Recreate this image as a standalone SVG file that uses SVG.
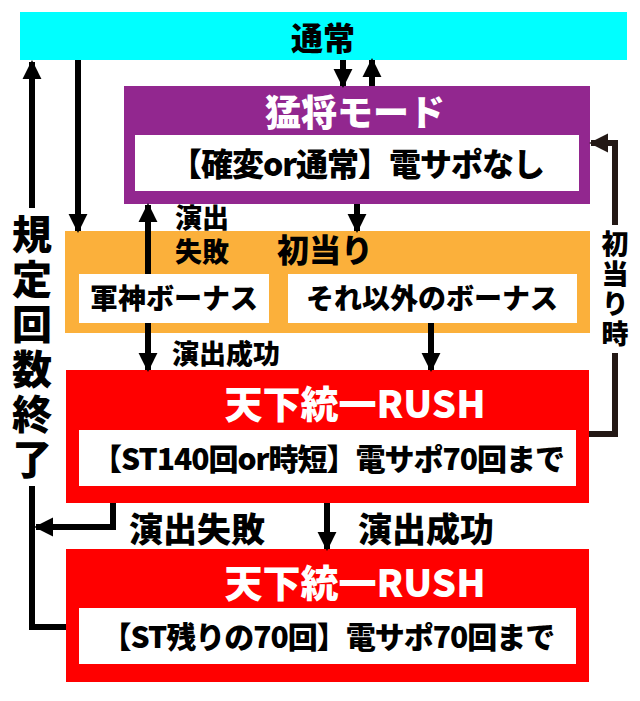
<svg xmlns="http://www.w3.org/2000/svg" width="640" height="701" viewBox="0 0 640 701">
<style>
text{font-family:"Noto Sans CJK JP","Noto Sans",sans-serif;font-weight:900;text-anchor:middle}
.w{fill:#fff}.b{fill:#000}
.v{writing-mode:vertical-rl;text-anchor:start}
.ln{stroke:#000;stroke-width:6;fill:none}
</style>
<defs><marker id="a" viewBox="0 0 10 10" refX="9" refY="5" markerWidth="3.2" markerHeight="3.2" orient="auto" markerUnits="strokeWidth"><path d="M0,0L10,5L0,10z" fill="#000"/></marker>
<marker id="a2" viewBox="0 0 10 10" refX="9" refY="5" markerWidth="3.2" markerHeight="3.2" orient="auto" markerUnits="strokeWidth"><path d="M0,0L10,5L0,10z" fill="#231815"/></marker></defs>
<rect width="640" height="701" fill="#fff"/>
<g id="tsujo"><rect x="20" y="12" width="607" height="48" fill="#00ffff"/><text x="323" y="50" font-size="32" class="b">通常</text></g>
<g id="mosho"><rect x="124" y="86" width="466" height="118" fill="#92278f"/><text x="355" y="126" font-size="36" class="w">猛将モード</text><rect x="135" y="135" width="444" height="56" fill="#fff"/><text x="357" y="176" font-size="32" class="b" letter-spacing="-1">【確変or通常】電サポなし</text></g>
<g id="hatsuatari"><rect x="65" y="231" width="525" height="102" fill="#fbb03b"/><text x="325" y="262" font-size="32" class="b">初当り</text><rect x="79" y="274" width="190" height="49" fill="#fff"/><text x="174" y="309" font-size="28" class="b">軍神ボーナス</text><rect x="288" y="274" width="289" height="49" fill="#fff"/><text x="432" y="309" font-size="28" class="b">それ以外のボーナス</text></g>
<g id="rush1"><rect x="66" y="370" width="523" height="133" fill="#ff0000"/><text x="355" y="418" font-size="38" class="w">天下統一RUSH</text><rect x="79" y="430" width="497" height="56" fill="#fff"/><text x="328" y="470" font-size="30" class="b" letter-spacing="-1">【ST140回or時短】電サポ70回まで</text></g>
<g id="rush2"><rect x="66" y="549" width="523" height="133" fill="#ff0000"/><text x="355" y="597" font-size="38" class="w">天下統一RUSH</text><rect x="79" y="608" width="497" height="56" fill="#fff"/><text x="328" y="648" font-size="30" class="b" letter-spacing="-1">【ST残りの70回】電サポ70回まで</text></g>
<g id="connectors">
<line class="ln" x1="343" y1="60" x2="343" y2="86" marker-end="url(#a)"/>
<line class="ln" x1="372" y1="86" x2="372" y2="60" marker-end="url(#a)"/>
<line class="ln" x1="78" y1="60" x2="78" y2="231" marker-end="url(#a)"/>
<line class="ln" x1="32" y1="208" x2="32" y2="62" marker-end="url(#a)"/>
<polyline class="ln" points="32,485 32,627 66,627"/>
<polyline class="ln" points="113,503 113,527 36,527" marker-end="url(#a)"/>
<line class="ln" x1="357" y1="204" x2="357" y2="231" marker-end="url(#a)"/>
<line class="ln" x1="148" y1="274" x2="148" y2="205" marker-end="url(#a)"/>
<line class="ln" x1="148" y1="323" x2="148" y2="370" marker-end="url(#a)"/>
<line class="ln" x1="431" y1="323" x2="431" y2="370" marker-end="url(#a)"/>
<line class="ln" x1="327" y1="503" x2="327" y2="549" marker-end="url(#a)"/>
<polyline points="589,434 615,434 615,143 591,143" stroke="#231815" stroke-width="6" fill="none" marker-end="url(#a2)"/>
<rect x="598" y="225" width="34" height="128" fill="#fff"/>
<text x="615" y="230" font-size="27" class="b v" letter-spacing="3">初当り時</text>
<rect x="10" y="210" width="44" height="276" fill="#fff"/>
<text x="32" y="214" font-size="40" class="b v" letter-spacing="5">規定回数終了</text>
<text x="202" y="228" font-size="27" class="b">演出</text><text x="202" y="262" font-size="27" class="b">失敗</text>
<text x="226" y="364" font-size="27" class="b">演出成功</text>
<text x="197" y="542" font-size="34" class="b">演出失敗</text>
<text x="426" y="542" font-size="34" class="b">演出成功</text>
</g>
</svg>
